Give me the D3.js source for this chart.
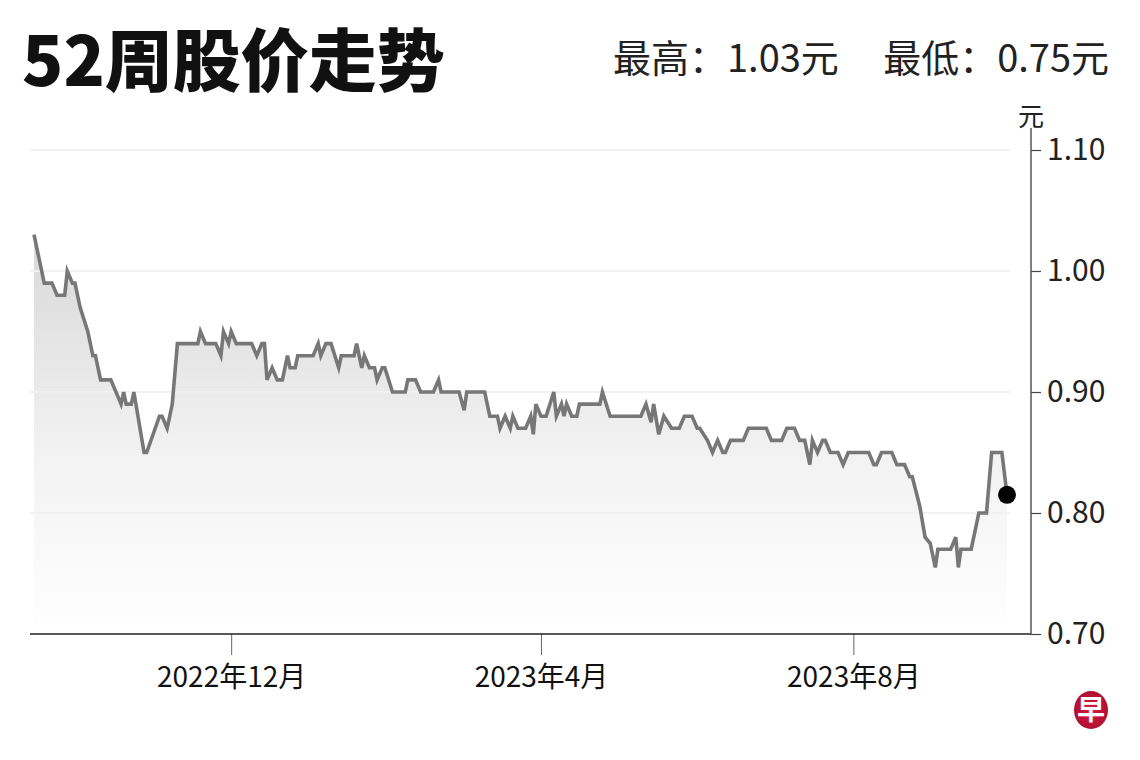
<!DOCTYPE html>
<html><head><meta charset="utf-8">
<script src="https://cdn.jsdelivr.net/npm/d3@7"></script>
<style>
html,body{margin:0;padding:0;background:#fff;}
svg{display:block;font-family:"Noto Sans CJK SC","Noto Sans",sans-serif;}
</style></head>
<body>
<svg id="c" width="1140" height="760"></svg>
<script>
const dates = ["2022-09-15","2022-09-18","2022-09-19","2022-09-22","2022-09-24","2022-09-27","2022-09-28","2022-09-30","2022-10-01","2022-10-03",
"2022-10-06","2022-10-08","2022-10-09","2022-10-11","2022-10-15","2022-10-19","2022-10-20","2022-10-21","2022-10-23","2022-10-24",
"2022-10-28","2022-10-29","2022-11-03","2022-11-04","2022-11-06","2022-11-08","2022-11-10","2022-11-18","2022-11-19","2022-11-21",
"2022-11-25","2022-11-27","2022-11-28","2022-11-30","2022-12-01","2022-12-03","2022-12-09","2022-12-11","2022-12-13","2022-12-14",
"2022-12-15","2022-12-17","2022-12-19","2022-12-21","2022-12-23","2022-12-24","2022-12-26","2022-12-27","2023-01-02","2023-01-04",
"2023-01-05","2023-01-07","2023-01-09","2023-01-12","2023-01-13","2023-01-18","2023-01-19","2023-01-21","2023-01-22","2023-01-24",
"2023-01-26","2023-01-27","2023-01-29","2023-01-30","2023-02-02","2023-02-07","2023-02-08","2023-02-11","2023-02-13","2023-02-18",
"2023-02-20","2023-02-21","2023-02-28","2023-03-02","2023-03-03","2023-03-10","2023-03-12","2023-03-15","2023-03-16","2023-03-18",
"2023-03-20","2023-03-21","2023-03-23","2023-03-26","2023-03-28","2023-03-29","2023-03-30","2023-04-01","2023-04-03","2023-04-06",
"2023-04-07","2023-04-09","2023-04-10","2023-04-11","2023-04-13","2023-04-15","2023-04-16","2023-04-24","2023-04-25","2023-04-28",
"2023-05-10","2023-05-12","2023-05-14","2023-05-15","2023-05-17","2023-05-19","2023-05-22","2023-05-25","2023-05-27","2023-05-30",
"2023-06-01","2023-06-02","2023-06-05","2023-06-07","2023-06-09","2023-06-11","2023-06-12","2023-06-14","2023-06-19","2023-06-21",
"2023-06-28","2023-06-30","2023-07-04","2023-07-06","2023-07-09","2023-07-11","2023-07-13","2023-07-15","2023-07-16","2023-07-18",
"2023-07-20","2023-07-21","2023-07-23","2023-07-26","2023-07-28","2023-07-30","2023-08-07","2023-08-09","2023-08-10","2023-08-12",
"2023-08-16","2023-08-18","2023-08-21","2023-08-23","2023-08-24","2023-08-27","2023-08-29","2023-08-31","2023-09-02","2023-09-03",
"2023-09-08","2023-09-10","2023-09-11","2023-09-12","2023-09-16","2023-09-18","2023-09-19","2023-09-22","2023-09-24","2023-09-28",
"2023-09-30"];
const prices = [1.03,1.00,0.99,0.99,0.98,0.98,1.00,0.99,0.99,0.97,
0.95,0.93,0.93,0.91,0.91,0.89,0.90,0.89,0.89,0.90,
0.85,0.85,0.88,0.88,0.87,0.89,0.94,0.94,0.95,0.94,
0.94,0.93,0.95,0.94,0.95,0.94,0.94,0.93,0.94,0.94,
0.91,0.92,0.91,0.91,0.93,0.92,0.92,0.93,0.93,0.94,
0.93,0.94,0.94,0.92,0.93,0.93,0.94,0.92,0.93,0.92,
0.92,0.91,0.92,0.92,0.90,0.90,0.91,0.91,0.90,0.90,
0.91,0.90,0.90,0.885,0.90,0.90,0.88,0.88,0.87,0.88,
0.87,0.88,0.87,0.87,0.88,0.865,0.89,0.88,0.88,0.90,
0.88,0.89,0.88,0.89,0.88,0.88,0.89,0.89,0.90,0.88,
0.88,0.89,0.875,0.89,0.865,0.88,0.87,0.87,0.88,0.88,
0.87,0.87,0.86,0.85,0.86,0.85,0.85,0.86,0.86,0.87,
0.87,0.86,0.86,0.87,0.87,0.86,0.86,0.84,0.86,0.85,
0.86,0.86,0.85,0.85,0.84,0.85,0.85,0.84,0.84,0.85,
0.85,0.84,0.84,0.83,0.83,0.805,0.78,0.775,0.755,0.77,
0.77,0.78,0.755,0.77,0.77,0.79,0.80,0.80,0.85,0.85,
0.815];
const yTicks = [0.70,0.80,0.90,1.00,1.10];
const gridTicks = [0.80,0.90,1.00,1.10];
const xTickDates = ["2022-12-01","2023-04-01","2023-08-01"];
const xTickLabels = ["2022年12月","2023年4月","2023年8月"];
const titleText = "52周股价走势";
const highText = "最高：1.03元";
const lowText = "最低：0.75元";
const unitText = "元";

const parse = d3.timeParse("%Y-%m-%d");
const data = dates.map((d,i)=>({date:parse(d), v:prices[i]}));

const svg = d3.select("#c");
const x = d3.scaleTime().domain(d3.extent(data,d=>d.date)).range([34,1007]);
const y = d3.scaleLinear().domain([0.70,1.10]).range([634,150]);

const defs = svg.append("defs");
const grad = defs.append("linearGradient").attr("id","fillg")
  .attr("gradientUnits","userSpaceOnUse").attr("x1",0).attr("x2",0)
  .attr("y1",y(1.03)).attr("y2",y(0.70));
grad.append("stop").attr("offset","0%").attr("stop-color","#d8d8d8");
grad.append("stop").attr("offset","55%").attr("stop-color","#f2f2f2");
grad.append("stop").attr("offset","100%").attr("stop-color","#ffffff");

// area
const area = d3.area().x(d=>x(d.date)).y0(y(0.70)).y1(d=>y(d.v));
svg.append("path").datum(data).attr("d",area).attr("fill","url(#fillg)");

// grid
svg.append("g").selectAll("line").data(gridTicks).join("line")
  .attr("x1",30).attr("x2",1010).attr("y1",d=>y(d)).attr("y2",d=>y(d))
  .attr("stroke","#f1f1f1").attr("stroke-width",2);

// line
const line = d3.line().x(d=>x(d.date)).y(d=>y(d.v));
svg.append("path").datum(data).attr("d",line).attr("fill","none")
  .attr("stroke","#777").attr("stroke-width",3.6).attr("stroke-linejoin","miter");

// last dot
const last = data[data.length-1];
svg.append("circle").attr("cx",x(last.date)).attr("cy",y(last.v)).attr("r",9).attr("fill","#000");

// bottom axis
const xAxis = d3.axisBottom(x).tickValues(xTickDates.map(parse))
  .tickSize(21).tickPadding(12).tickFormat((d,i)=>xTickLabels[i]);
const gx = svg.append("g").attr("transform","translate(0,634)").call(xAxis);
gx.select(".domain").remove();
gx.selectAll(".tick line").attr("stroke","#666").attr("stroke-width",1);
gx.selectAll(".tick text").attr("font-size",28).attr("fill","#111")
  .attr("font-family","'Noto Sans CJK SC',sans-serif");
svg.append("line").attr("x1",30).attr("x2",1031).attr("y1",634).attr("y2",634)
  .attr("stroke","#222").attr("stroke-width",1.5);

// right axis
const yAxis = d3.axisRight(y).tickValues(yTicks).tickSize(10).tickPadding(6).tickFormat(d3.format(".2f"));
const gy = svg.append("g").attr("transform","translate(1031,0)").call(yAxis);
gy.select(".domain").remove();
gy.selectAll(".tick line").attr("stroke","#444").attr("stroke-width",1.2);
gy.selectAll(".tick text").attr("font-size",30).attr("fill","#222")
  .attr("font-family","'Noto Sans CJK SC',sans-serif");
svg.append("line").attr("x1",1031).attr("x2",1031).attr("y1",128).attr("y2",634)
  .attr("stroke","#555").attr("stroke-width",1.5);
svg.append("text").attr("x",1031).attr("y",126).attr("text-anchor","middle")
  .attr("font-size",26).attr("fill","#222").text(unitText);

// title
svg.append("text").attr("x",22).attr("y",86).attr("font-size",68).attr("font-weight",900)
  .attr("fill","#111").text(titleText);
svg.append("text").attr("x",613).attr("y",72).attr("font-size",38)
  .attr("fill","#222").text(highText);
svg.append("text").attr("x",1109).attr("y",72).attr("text-anchor","end").attr("font-size",38)
  .attr("fill","#222").text(lowText);

// logo
const logo = svg.append("g").attr("transform","translate(1091,710)");
const lg = defs.append("radialGradient").attr("id","logog");
lg.append("stop").attr("offset","0%").attr("stop-color","#d81b4a");
lg.append("stop").attr("offset","100%").attr("stop-color","#b0102f");
logo.append("ellipse").attr("rx",17).attr("ry",19).attr("fill","url(#logog)");
logo.append("text").attr("text-anchor","middle").attr("y",10).attr("font-size",28)
  .attr("font-weight",700).attr("fill","#fff").text("早");
</script>
</body></html>
